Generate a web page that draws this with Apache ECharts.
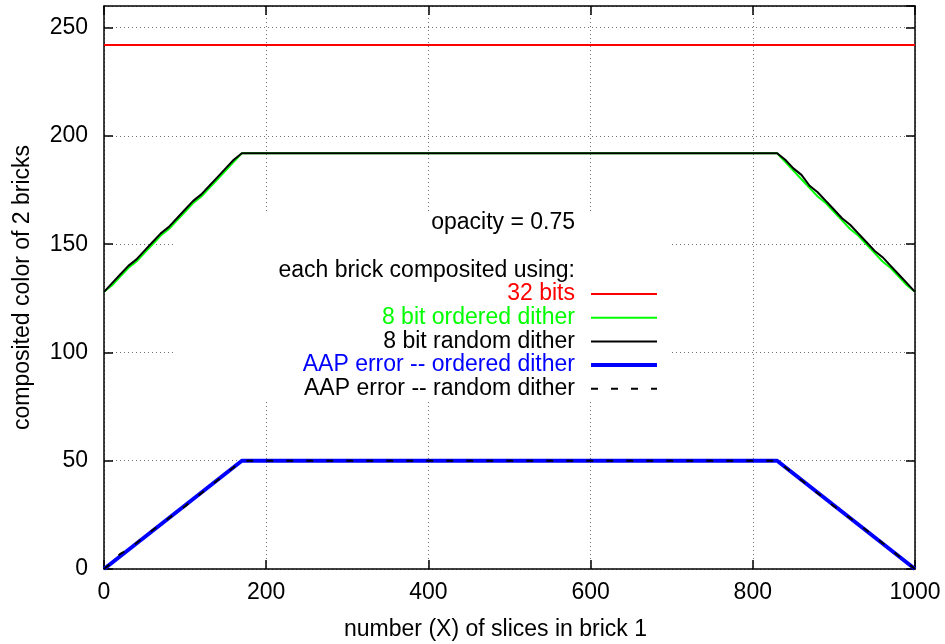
<!DOCTYPE html>
<html>
<head>
<meta charset="utf-8">
<script src="https://cdn.jsdelivr.net/npm/echarts@6/dist/echarts.min.js"></script>
<style>html,body{margin:0;padding:0;background:#fff}#c{width:945px;height:644px}</style>
</head>
<body>
<div id="c"></div>
<script>
// ---- data ----
const xTicks = [0, 200, 400, 600, 800, 1000];
const yTicks = [0, 50, 100, 150, 200, 250];
const seriesNames = ['32 bits', '8 bit ordered dither', '8 bit random dither', 'AAP error -- ordered dither', 'AAP error -- random dither'];
const bits32 = [[0, 242], [1000, 242]];
const ordered8 = [[0,128],[10,131],[20,135],[30,139],[40,142],[50,146],[60,150],[70,154],[80,157],[90,161],[100,165],[110,169],[120,172],[130,176],[140,180],[150,184],[160,188],[170,192],
                  [830,192],[840,188],[850,184],[860,180],[870,176],[880,172],[890,169],[900,165],[910,161],[920,157],[930,154],[940,150],[950,146],[960,142],[970,139],[980,135],[990,131],[1000,128]];
const random8 = [[0,128],[10,132],[20,136],[30,140],[40,143],[50,147],[60,151],[70,155],[80,158],[90,162],[100,166],[110,170],[120,173],[130,177],[140,181],[150,185],[160,189],[170,192],
                 [830,192],[840,189],[850,185],[860,182],[870,177],[880,174],[890,170],[900,166],[910,162],[920,159],[930,155],[940,151],[950,147],[960,144],[970,140],[980,136],[990,132],[1000,128]];
const aapOrdered = [[0,0],[170,50],[830,50],[1000,0]];
const aapRandom = [[0,0],[10,3],[20,7],[30,9],[60,18],[100,29],[140,41],[170,50],[830,50],[870,38],[900,29],[940,18],[970,9],[1000,0]];
const seriesColors = ['#ff0000', '#00ff00', '#000000', '#0000ff', '#000000'];
const annotation = 'opacity = 0.75';
const legendTitle = 'each brick composited using:';

const FONT = "'Liberation Sans', Arial, sans-serif";
const FS = 23;
const chart = echarts.init(document.getElementById('c'));

const widths = [2, 2, 2, 4, 2];
const types = ['solid', 'solid', 'solid', 'solid', [7, 13]];
const datas = [bits32, ordered8, random8, aapOrdered, aapRandom];

const series = datas.map((d, i) => ({
  name: seriesNames[i], type: 'line', data: d, showSymbol: false, symbol: 'none',
  animation: false, z: 2 + i,
  lineStyle: { color: seriesColors[i], width: widths[i], type: types[i] }
}));

// legend drawn as graphic
const lgX = 575, lgY0 = 294, lgStep = 23.7;
const graphic = [
  { type: 'rect', z: 1, shape: { x: 174, y: 211, width: 496, height: 190 }, style: { fill: '#fff' } },
  { type: 'text', z: 10, style: { text: annotation, x: lgX, y: 223, align: 'right', verticalAlign: 'middle', font: FS + 'px ' + FONT, fill: '#000' } },
  { type: 'text', z: 10, style: { text: legendTitle, x: lgX, y: 271, align: 'right', verticalAlign: 'middle', font: FS + 'px ' + FONT, fill: '#000' } }
];
seriesNames.forEach((n, i) => {
  const y = lgY0 + i * lgStep;
  graphic.push({ type: 'text', z: 10, style: { text: n, x: lgX, y: y, align: 'right', verticalAlign: 'middle', font: FS + 'px ' + FONT, fill: seriesColors[i] } });
  graphic.push({ type: 'line', z: 10, shape: { x1: 591, y1: y, x2: 657, y2: y }, style: { stroke: seriesColors[i], lineWidth: widths[i], lineDash: Array.isArray(types[i]) ? types[i] : null } });
});

const gridLine = { show: true, lineStyle: { color: '#707070', width: 1, type: [1, 3] } };
const axisLine = { show: true, onZero: false, lineStyle: { color: '#000', width: 1.5 } };
const tick = { show: true, inside: true, length: 9, lineStyle: { color: '#000', width: 1.5 } };

chart.setOption({
  animation: false,
  backgroundColor: '#fff',
  textStyle: { fontFamily: FONT },
  grid: { left: 104, right: 30, top: 6, bottom: 75, containLabel: false, outerBoundsMode: 'none' },
  xAxis: [
    { type: 'value', min: 0, max: 1000, interval: 200, position: 'bottom',
      axisLine, axisTick: tick, splitLine: gridLine,
      axisLabel: { color: '#000', fontSize: FS, fontFamily: FONT, margin: 12, formatter: v => xTicks.includes(v) ? String(v) : '' },
      name: 'number (X) of slices in brick 1', nameLocation: 'middle', nameGap: 49,
      nameTextStyle: { color: '#000', fontSize: FS, fontFamily: FONT, padding: [0, 28, 0, 0] } },
    { type: 'value', min: 0, max: 1000, interval: 200, position: 'top',
      axisLine, axisTick: tick, splitLine: { show: false }, axisLabel: { show: false } }
  ],
  yAxis: [
    { type: 'value', min: 0, max: 260, interval: 50, position: 'left',
      axisLine, axisTick: tick, splitLine: gridLine,
      axisLabel: { color: '#000', fontSize: FS, fontFamily: FONT, margin: 16, showMaxLabel: false, formatter: v => yTicks.includes(v) ? String(v) : '' },
      name: 'composited color of 2 bricks', nameLocation: 'middle', nameGap: 70,
      nameTextStyle: { color: '#000', fontSize: FS, fontFamily: FONT } },
    { type: 'value', min: 0, max: 260, interval: 50, position: 'right',
      axisLine, axisTick: tick, splitLine: { show: false }, axisLabel: { show: false } }
  ],
  series,
  graphic
});
</script>
</body>
</html>
